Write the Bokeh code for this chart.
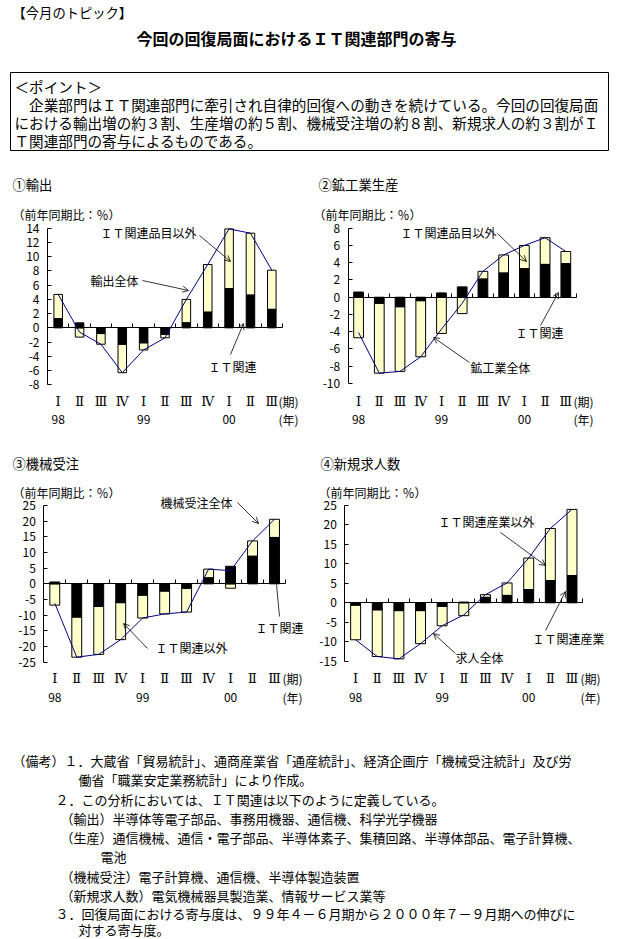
import numpy as np
from bokeh.plotting import figure
from bokeh.models import Range1d, LinearAxis, FixedTicker, Arrow, OpenHead, ColumnDataSource
from bokeh.core.properties import value
from bokeh.embed import file_html
from bokeh.resources import INLINE

# ---------------- data ----------------
quarters = ["Ⅰ", "Ⅱ", "Ⅲ", "Ⅳ", "Ⅰ", "Ⅱ", "Ⅲ", "Ⅳ", "Ⅰ", "Ⅱ", "Ⅲ"]
years = ["98", "99", "00"]
year_index = [0, 4, 8]

# ① 輸出 (IT関連 / IT関連品目以外)
exp_it = [1.3, 0.7, -0.8, -2.3, -2.1, -0.9, 0.7, 2.2, 5.5, 4.6, 2.6]
exp_other = [3.4, -1.3, -1.5, -4.0, -1.0, -0.5, 3.3, 6.7, 8.4, 8.7, 5.5]
# ② 鉱工業生産
prod_it = [0.6, -0.7, -1.1, -0.4, 0.5, 1.2, 2.1, 2.8, 3.3, 3.8, 3.9]
prod_other = [-4.7, -8.1, -7.5, -6.5, -4.2, -1.9, 0.9, 2.1, 2.7, 3.1, 1.4]
# ③ 機械受注
mach_it = [0.6, -10.6, -7.2, -6.0, -3.6, -2.3, -1.4, 1.9, 5.6, 8.8, 14.8]
mach_other = [-6.8, -12.8, -15.3, -11.8, -7.3, -7.3, -7.6, 2.8, -1.4, 4.9, 5.8]
# ④ 新規求人数
job_it = [-0.6, -1.8, -2.0, -2.0, -0.9, 0.2, 1.4, 1.9, 3.4, 5.7, 7.0]
job_other = [-8.9, -12.0, -12.4, -8.5, -5.0, -3.3, 0.7, 3.2, 8.1, 13.4, 17.0]

exp_ticks = list(range(-8, 15, 2))
prod_ticks = list(range(-10, 9, 2))
mach_ticks = list(range(-25, 26, 5))
job_ticks = list(range(-15, 26, 5))

# ---------------- page ----------------
FONT = "Noto Sans CJK JP"
ROMAN = "DejaVu Serif"
W, H = 623, 939
X0, Y0 = 0, 0  # the default ranges are in page pixels

p = figure(width=W, height=H, output_backend="svg", toolbar_location=None,
           x_range=Range1d(X0, X0 + W), y_range=Range1d(Y0 + H, Y0),
           x_axis_type=None, y_axis_type=None, title=None, min_border=0,
           outline_line_color=None, background_fill_color="white",
           border_fill_color="white")
p.xgrid.visible = False
p.ygrid.visible = False


def txt(x, y, s, size="12px", align="left", bold=False, color="black", font=FONT):
    p.text(x=[x], y=[y], text=[s], text_font=value(font), text_font_size=size,
           text_align=align, text_baseline="middle", text_color=color,
           text_font_style="bold" if bold else "normal")


def arrow(xs, ys, xe, ye, head=True):
    p.add_layout(Arrow(x_start=xs, y_start=ys, x_end=xe, y_end=ye,
                       line_color="black", line_width=0.8,
                       end=OpenHead(size=6, line_color="black", line_width=0.8) if head else None))


# header
txt(12, 12, "【今月のトピック】", size="13.3px")
txt(296, 37, "今回の回復局面におけるＩＴ関連部門の寄与", size="16px", align="center", bold=True)
p.quad(left=[10], right=[608], top=[72], bottom=[150], fill_color=None, line_color="black", line_width=1)
box_lines = ["＜ポイント＞",
             "　企業部門はＩＴ関連部門に牽引され自律的回復への動きを続けている。今回の回復局面",
             "における輸出増の約３割、生産増の約５割、機械受注増の約８割、新規求人の約３割がＩ",
             "Ｔ関連部門の寄与によるものである。"]
for i, s in enumerate(box_lines):
    txt(14, 86 + 18 * i, s, size="14.6px")

# panels: layout in page pixels
panels = [
    dict(name="1", it=exp_it, other=exp_other, ticks=exp_ticks, x0=47, x1=282,
         vtop=14, ptop=227.7, vbot=-8, pbot=384.3, w=0.40, qy=401, yy=419,
         title="①輸出", tx=12, ty=184, ux=12, uy=214, kx=278),
    dict(name="2", it=prod_it, other=prod_other, ticks=prod_ticks, x0=347.7, x1=575.7,
         vtop=8, ptop=227.7, vbot=-10, pbot=383, w=0.47, qy=401, yy=419,
         title="②鉱工業生産", tx=318, ty=184, ux=313, uy=214, kx=573),
    dict(name="3", it=mach_it, other=mach_other, ticks=mach_ticks, x0=43.3, x1=285,
         vtop=25, ptop=505, vbot=-25, pbot=661.7, w=0.45, qy=678, yy=697,
         title="③機械受注", tx=12, ty=463, ux=12, uy=492, kx=282),
    dict(name="4", it=job_it, other=job_other, ticks=job_ticks, x0=344.3, x1=582.3,
         vtop=25, ptop=505, vbot=-15, pbot=660.7, w=0.46, qy=678, yy=697,
         title="④新規求人数", tx=320, ty=463, ux=318, uy=492, kx=580),
]

n = len(quarters)
for d in panels:
    xn, yn = "x" + d["name"], "y" + d["name"]
    ux = lambda px: (px - d["x0"]) * n / (d["x1"] - d["x0"])
    vy = lambda py: d["vtop"] - (py - d["ptop"]) * (d["vtop"] - d["vbot"]) / (d["pbot"] - d["ptop"])
    p.extra_x_ranges[xn] = Range1d(ux(X0), ux(X0 + W))
    p.extra_y_ranges[yn] = Range1d(vy(Y0 + H), vy(Y0))

    it = np.array(d["it"], dtype=float)
    ot = np.array(d["other"], dtype=float)
    ot_bot = np.where(np.sign(ot) == np.sign(it), it, 0.0)
    src = ColumnDataSource(dict(x=np.arange(n) + 0.5, it_top=it, it_bot=np.zeros(n),
                                ot_bot=ot_bot, ot_top=ot_bot + ot, total=it + ot))
    p.vbar(x="x", top="ot_top", bottom="ot_bot", width=d["w"], fill_color="#FFFFCC",
           line_color="black", line_width=1, source=src, x_range_name=xn, y_range_name=yn)
    p.vbar(x="x", top="it_top", bottom="it_bot", width=d["w"], fill_color="black",
           line_color="black", line_width=1, source=src, x_range_name=xn, y_range_name=yn)
    p.line(x="x", y="total", line_color="#000080", line_width=1, source=src,
           x_range_name=xn, y_range_name=yn)

    yax = LinearAxis(x_range_name=xn, y_range_name=yn, fixed_location=0,
                     bounds=(d["vbot"], d["vtop"]), ticker=FixedTicker(ticks=d["ticks"]),
                     major_tick_in=4, major_tick_out=0, minor_tick_line_color=None,
                     axis_line_color="black", major_tick_line_color="black",
                     major_label_standoff=8, major_label_text_font=FONT,
                     major_label_text_font_size="12px", major_label_text_color="black",
                     major_label_overrides={t: str(t) for t in d["ticks"]})
    p.add_layout(yax, "left")
    xax = LinearAxis(x_range_name=xn, y_range_name=yn, fixed_location=0,
                     bounds=(0, n), ticker=FixedTicker(ticks=list(range(n + 1))),
                     major_tick_in=4, major_tick_out=0, minor_tick_line_color=None,
                     axis_line_color="black", major_tick_line_color="black",
                     major_label_text_color=None)
    p.add_layout(xax, "below")

    # category labels (quarters and years) at category centres
    p.text(x=np.arange(n) + 0.5, y=[d["qy"]] * n, text=quarters, x_range_name=xn,
           text_font=value(ROMAN), text_font_size="13px", text_align="center",
           text_baseline="middle", text_color="black")
    p.text(x=np.array(year_index) + 0.5, y=[d["yy"]] * len(years), text=years, x_range_name=xn,
           text_font=value(FONT), text_font_size="12px", text_align="center",
           text_baseline="middle", text_color="black")
    txt(d["kx"], d["qy"], "(期)")
    txt(d["kx"], d["yy"], "(年)")
    txt(d["tx"], d["ty"], d["title"], size="13.3px")
    txt(d["ux"], d["uy"], "（前年同期比：％）")

# annotations with leader arrows
txt(100, 232, "ＩＴ関連品目以外"); arrow(199, 235, 230, 261)
txt(90, 280, "輸出全体"); arrow(142, 280, 188, 290)
txt(208, 366, "ＩＴ関連"); arrow(230, 354, 243, 323)

txt(400, 232, "ＩＴ関連品目以外"); arrow(497, 233, 526, 261)
txt(515, 332, "ＩＴ関連"); arrow(540, 325, 558, 292)
txt(470, 367, "鉱工業全体"); arrow(469, 362, 433, 337)

txt(160, 502, "機械受注全体"); arrow(237, 502, 258, 523)
txt(255, 627, "ＩＴ関連"); arrow(279, 616, 276, 584, head=False)
txt(155, 647, "ＩＴ関連以外"); arrow(147, 648, 123, 623)

txt(438, 521, "ＩＴ関連産業以外"); arrow(500, 532, 545, 565)
txt(532, 638, "ＩＴ関連産業"); arrow(545, 630, 565, 591)
txt(455, 657, "求人全体"); arrow(455, 653, 433, 633)

# footer notes
footer = [
    (12, 760, "（備考）１．大蔵省「貿易統計」、通商産業省「通産統計」、経済企画庁「機械受注統計」及び労"),
    (78, 779, "働省「職業安定業務統計」により作成。"),
    (55, 799, "２．この分析においては、ＩＴ関連は以下のように定義している。"),
    (60, 818, "（輸出）半導体等電子部品、事務用機器、通信機、科学光学機器"),
    (60, 837, "（生産）通信機械、通信・電子部品、半導体素子、集積回路、半導体部品、電子計算機、"),
    (100, 856, "電池"),
    (60, 876, "（機械受注）電子計算機、通信機、半導体製造装置"),
    (60, 895, "（新規求人数）電気機械器具製造業、情報サービス業等"),
    (55, 913, "３．回復局面における寄与度は、９９年４－６月期から２０００年７－９月期への伸びに"),
    (78, 929, "対する寄与度。"),
]
for x, y, s in footer:
    txt(x, y, s, size="13px")

open("out.html", "w").write(file_html(p, INLINE))
